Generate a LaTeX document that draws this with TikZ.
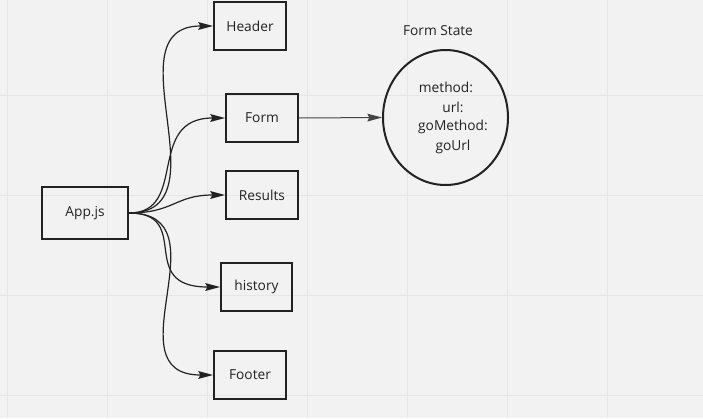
\documentclass[tikz,border=0pt]{standalone}
\usepackage{fontspec}
\setmainfont{Open Sans}
\usetikzlibrary{shapes.geometric,arrows.meta}
\definecolor{bg}{HTML}{F2F2F2}
\definecolor{gridc}{HTML}{E6E6E6}
\definecolor{ink}{HTML}{222222}
\definecolor{thin}{HTML}{444444}
\begin{document}
\begin{tikzpicture}[x=0.75pt,y=-0.75pt,
  txt/.style={font=\fontsize{10.3}{12}\selectfont,text=ink},
  box/.style={draw=ink,line width=1.5pt,minimum width=54pt,minimum height=36pt,inner sep=0pt,txt},
  tip/.style={-{Stealth[length=11pt,width=5.8pt,inset=1.5pt]}},
  conn/.style={draw=ink,line width=0.9pt,tip},
  lbl/.style={txt,inner sep=0pt}]
\fill[bg] (0,0) rectangle (703,418);
\useasboundingbox (0,0) rectangle (703,418);
\foreach \x in {7,107,...,607} \draw[gridc,line width=0.75pt] (\x,0) -- (\x,418);
\foreach \y in {95,195,295,395} \draw[gridc,line width=0.75pt] (0,\y) -- (703,\y);

\node[box,minimum width=64.5pt,minimum height=39pt] (app) at (85,213) {App.js};
\node[box] (header) at (250,26) {Header};
\node[box] (form) at (262,118) {Form};
\node[box] (results) at (262,195) {Results};
\node[box,minimum width=53.25pt] (history) at (256.5,287) {history};
\node[box] (footer) at (250,375) {Footer};

\node[draw=ink,line width=1.5pt,ellipse,minimum width=93.75pt,minimum height=101.25pt,inner sep=0pt] (state) at (445.5,117.5) {};
\node[lbl] (title) at (438,31) {Form State};
\node[lbl] (l1) at (446,87) {method:};
\node[lbl] (l2) at (453,107) {url:};
\node[lbl] (l3) at (453,127) {goMethod:};
\node[lbl] (l4) at (453,147) {goUrl};

\draw[conn] (app.east) .. controls +(98,0) and +(-104,0) .. (header.west);
\draw[conn] (app.east) .. controls +(60,0) and +(-80,0) .. (form.west);
\draw[conn] (app.east) .. controls +(45,0) and +(-50,0) .. (results.west);
\draw[conn] (app.east) .. controls +(65,0) and +(-85,0) .. (history.west);
\draw[conn] (app.east) .. controls +(98,0) and +(-104,0) .. (footer.west);
\draw[draw=thin,line width=0.75pt,tip] (form.east) -- (state.west);
\end{tikzpicture}
\end{document}
